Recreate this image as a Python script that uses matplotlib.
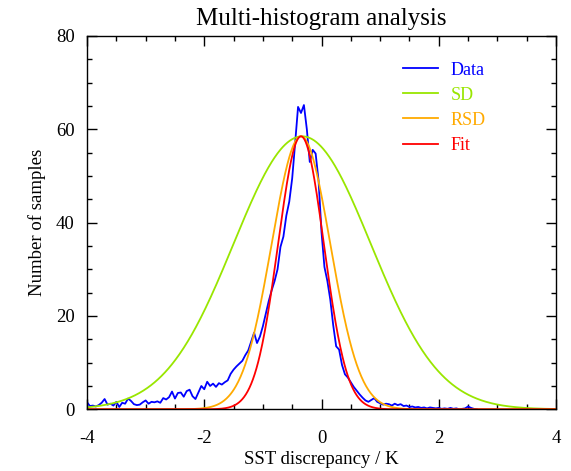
import matplotlib
matplotlib.use("Agg")
import matplotlib.pyplot as plt
import numpy as np
from matplotlib.ticker import MultipleLocator

plt.rcParams['font.family'] = ['Liberation Serif', 'DejaVu Serif']
plt.rcParams['axes.unicode_minus'] = False

# histogram counts, bins of 0.05 K starting at -4.0 K
bin_start = -4.0
bin_width = 0.05
counts = [
    1.5, 0.7, 0.8, 0.6, 0.9, 1.4, 2.2, 1.0, 1.2, 0.8,
    1.6, 0.5, 1.4, 1.2, 2.3, 1.8, 1.1, 0.9, 1.0, 1.5,
    1.9, 1.2, 1.6, 1.5, 1.7, 1.4, 2.4, 2.1, 2.6, 3.8,
    2.3, 3.5, 3.6, 2.7, 3.9, 4.2, 2.8, 2.2, 3.6, 5.0,
    4.3, 5.9, 5.0, 5.5, 4.8, 5.6, 5.3, 5.8, 6.2, 7.6,
    8.5, 9.2, 9.8, 10.4, 11.6, 12.6, 14.5, 16.4, 14.2, 15.6,
    17.8, 20.5, 23.2, 25.5, 27.5, 30.0, 34.8, 37.0, 41.5, 44.5,
    49.5, 57.0, 64.8, 63.5, 65.2, 60.0, 53.0, 55.6, 54.8, 49.0,
    38.0, 30.5, 27.5, 23.5, 18.0, 13.5, 12.8, 9.5, 7.5, 6.8,
    5.8, 4.8, 4.0, 3.2, 2.5, 1.9, 1.6, 2.0, 2.4, 1.6,
    1.3, 1.0, 1.2, 1.1, 0.8, 1.2, 0.9, 1.1, 0.7, 0.8,
    0.5, 0.6, 0.4, 0.5, 0.3, 0.4, 0.2, 0.4, 0.3, 0.2,
    0.3, 0.1, 0.2, 0.1, 0.3, 0.1, 0.2, 0.0, 0.1, 0.2,
    0.6, 0.3, 0.1, 0.0,
]
sst = bin_start + bin_width * np.arange(len(counts))

# gaussian models: (centre, sigma, peak)
sd_par = (-0.33, 1.17, 58.5)
rsd_par = (-0.35, 0.50, 58.5)
fit_par = (-0.35, 0.39, 58.5)


def gauss(x, p):
    mu, sig, amp = p
    return amp * np.exp(-0.5 * ((x - mu) / sig) ** 2)


xx = np.linspace(-4, 4, 801)

fig = plt.figure(figsize=(5.71, 4.71), dpi=100)
ax = fig.add_axes([0.1524, 0.131, 0.8213, 0.7926])

ax.plot(sst, counts, color='#0000ff', lw=1.3, label='Data')
ax.plot(xx, gauss(xx, sd_par), color='#99e600', lw=1.3, label='SD')
ax.plot(xx, gauss(xx, rsd_par), color='#ffaa00', lw=1.3, label='RSD')
ax.plot(xx, gauss(xx, fit_par), color='#ff0000', lw=1.3, label='Fit')

ax.set_xlim(-4, 4)
ax.set_ylim(0, 80)
ax.xaxis.set_major_locator(MultipleLocator(2))
ax.xaxis.set_minor_locator(MultipleLocator(0.5))
ax.yaxis.set_major_locator(MultipleLocator(20))
ax.yaxis.set_minor_locator(MultipleLocator(5))
ax.tick_params(which='both', direction='in', top=True, right=True,
               labelsize=13.5, width=1)
ax.tick_params(which='major', length=7)
ax.tick_params(which='minor', length=3.6)
ax.tick_params(axis='x', which='major', pad=15)
ax.tick_params(axis='y', which='major', pad=9)
for s in ax.spines.values():
    s.set_linewidth(1)

ax.set_title('Multi-histogram analysis', fontsize=18, pad=8)
ax.set_xlabel('SST discrepancy / K', fontsize=13.5, labelpad=3)
ax.set_ylabel('Number of samples', fontsize=13.5, labelpad=7)

ax.legend(loc='upper left', bbox_to_anchor=(0.64, 0.975), frameon=False,
          labelcolor='linecolor', fontsize=13, handlelength=1.9,
          handletextpad=0.7, labelspacing=0.45)

fig.savefig('out.png', dpi=100)
